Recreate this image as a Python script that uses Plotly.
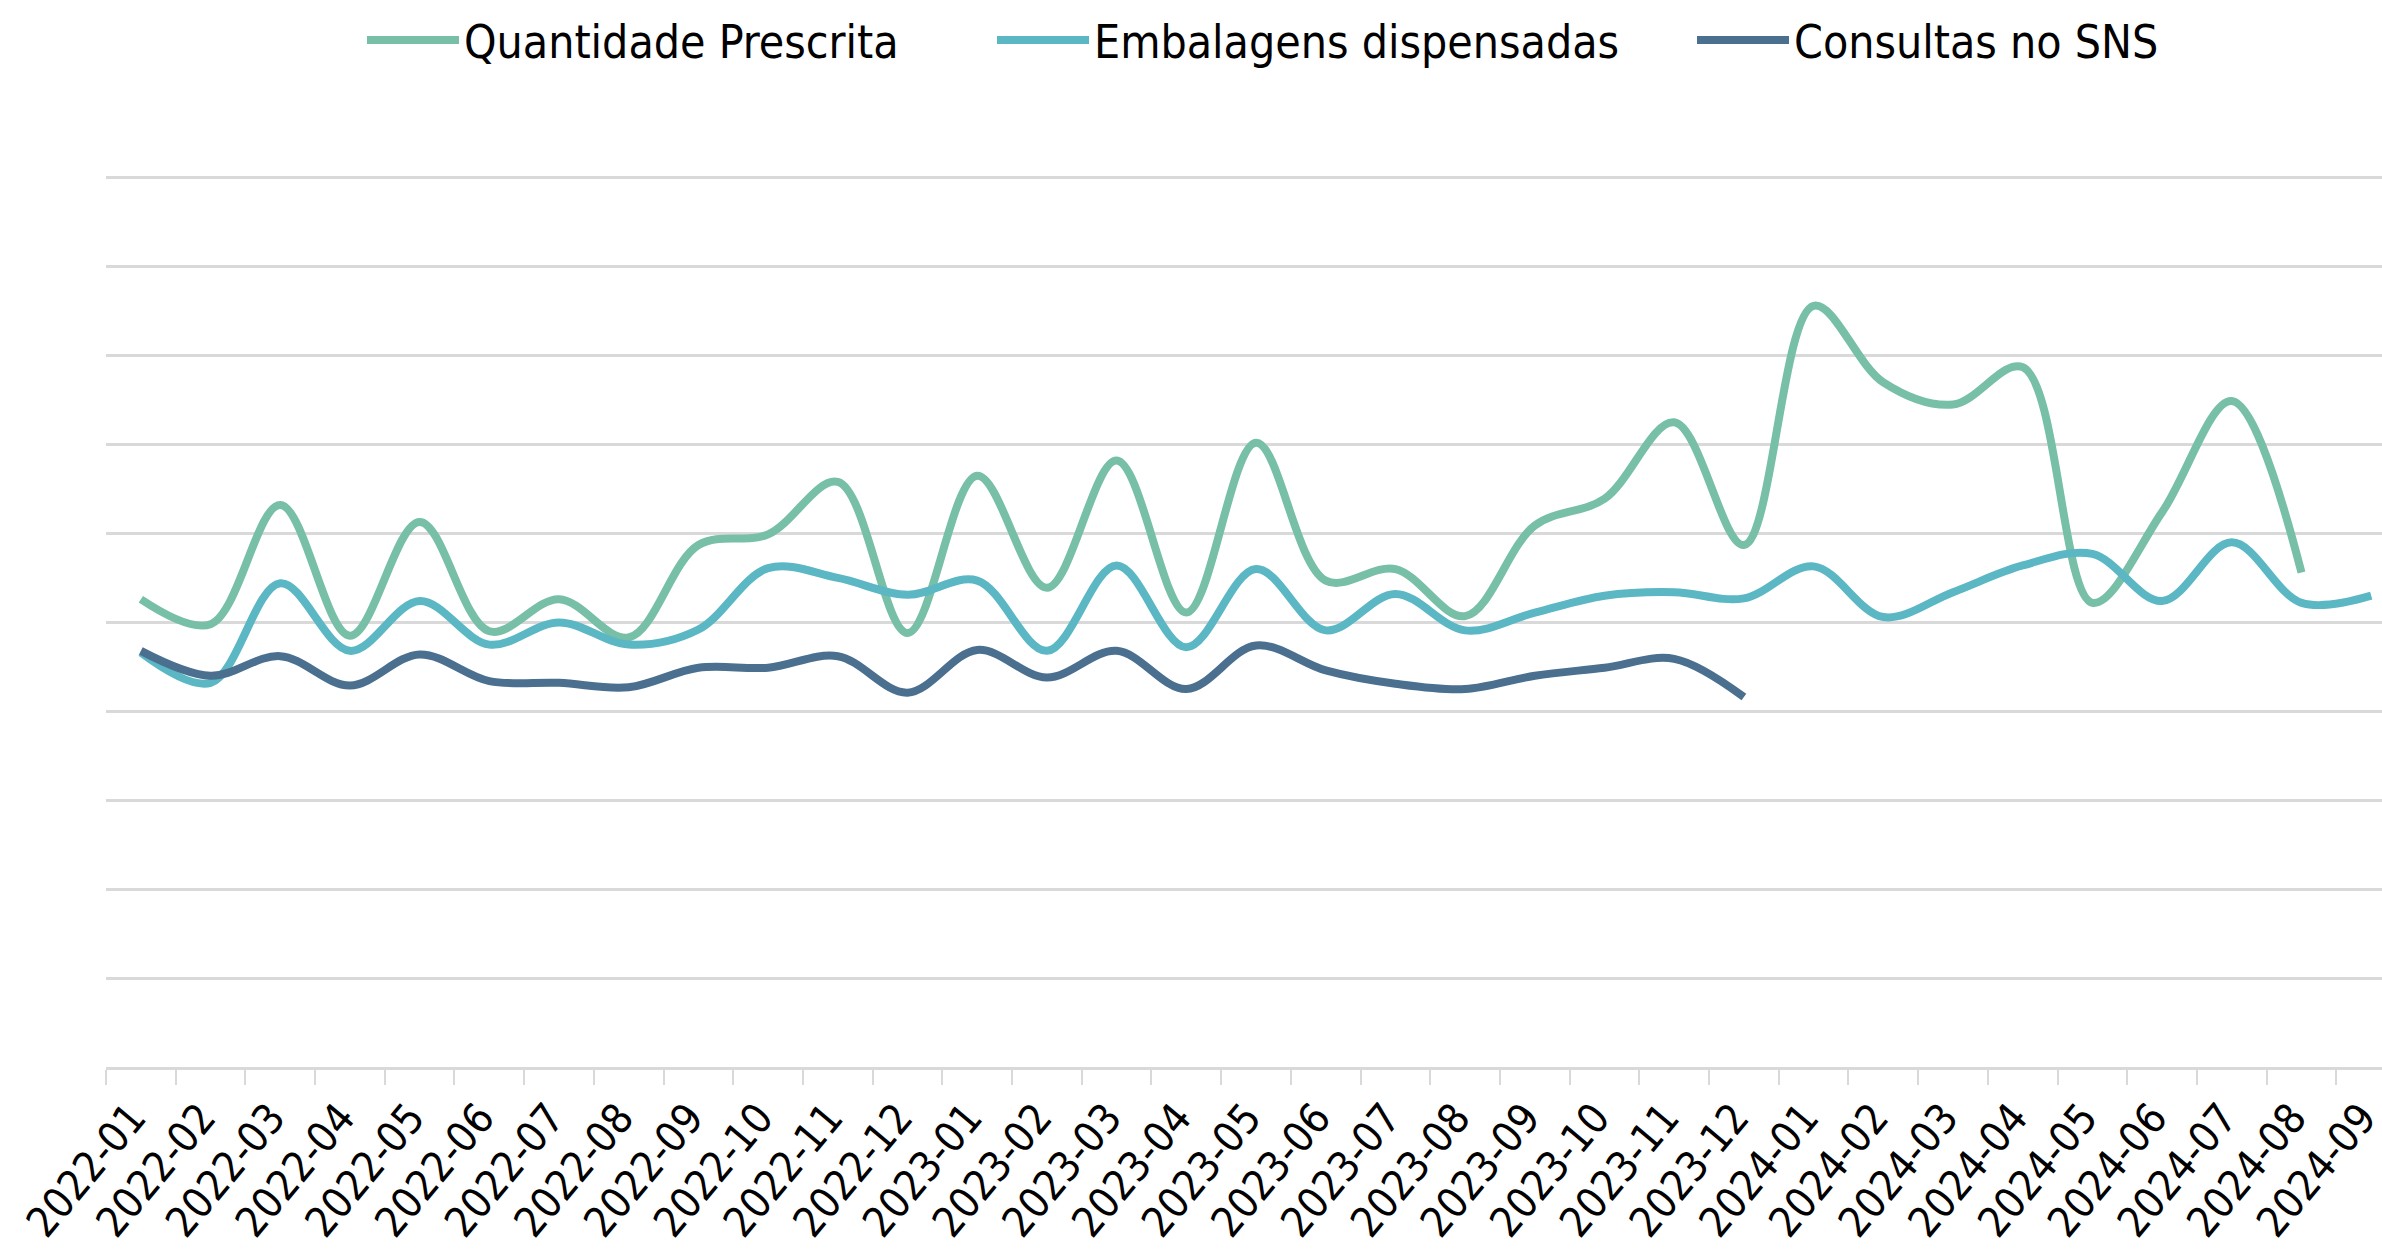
import plotly.graph_objects as go

months = ["2022-01","2022-02","2022-03","2022-04","2022-05","2022-06","2022-07","2022-08",
          "2022-09","2022-10","2022-11","2022-12","2023-01","2023-02","2023-03","2023-04",
          "2023-05","2023-06","2023-07","2023-08","2023-09","2023-10","2023-11","2023-12",
          "2024-01","2024-02","2024-03","2024-04","2024-05","2024-06","2024-07","2024-08",
          "2024-09"]

quantidade_prescrita = [5.26, 4.98, 6.32, 4.85, 6.13, 4.90, 5.26, 4.83, 5.87, 5.99, 6.58, 4.88,
                        6.65, 5.39, 6.82, 5.11, 7.02, 5.47, 5.60, 5.07, 6.09, 6.39, 7.25, 5.87,
                        8.56, 7.70, 7.45, 7.87, 5.22, 6.24, 7.49, 5.56, None]

embalagens_dispensadas = [4.66, 4.32, 5.44, 4.68, 5.24, 4.75, 5.00, 4.75, 4.92, 5.61, 5.50, 5.31,
                          5.47, 4.68, 5.64, 4.72, 5.60, 4.91, 5.32, 4.91, 5.11, 5.30, 5.34, 5.27,
                          5.63, 5.06, 5.34, 5.64, 5.77, 5.24, 5.90, 5.22, 5.30]

consultas_sns = [4.68, 4.40, 4.62, 4.29, 4.64, 4.34, 4.32, 4.27, 4.49, 4.49, 4.62, 4.21,
                 4.69, 4.38, 4.68, 4.25, 4.74, 4.46, 4.31, 4.25, 4.40, 4.49, 4.59, 4.16,
                 None, None, None, None, None, None, None, None, None]

series = [
    ("Quantidade Prescrita", quantidade_prescrita, "#77BFA7", "legend"),
    ("Embalagens dispensadas", embalagens_dispensadas, "#5AB7C3", "legend2"),
    ("Consultas no SNS", consultas_sns, "#4A6F8F", "legend3"),
]

FONT = "DejaVu Sans Condensed, Liberation Sans Narrow, DejaVu Sans, sans-serif"

fig = go.Figure()
for name, vals, color, leg in series:
    fig.add_trace(go.Scatter(
        x=months, y=vals, name=name, mode="lines", legend=leg,
        line=dict(color=color, width=8, shape="spline", smoothing=1.0),
        connectgaps=False,
    ))

def legend_cfg(xpix):
    return dict(orientation="h", xref="container", yref="container",
                x=xpix / 2382, xanchor="left", y=1 - 40 / 1253, yanchor="middle",
                font=dict(family=FONT, size=46, color="#000000"),
                itemwidth=92, bgcolor="rgba(0,0,0,0)", borderwidth=0)

fig.update_layout(
    width=2382, height=1253,
    margin=dict(l=106, r=0, t=176, b=186, autoexpand=False),
    paper_bgcolor="white", plot_bgcolor="white",
    font=dict(family=FONT, size=43, color="#000000"),
    showlegend=True,
    legend=legend_cfg(362),
    legend2=legend_cfg(992),
    legend3=legend_cfg(1692),
)

fig.update_xaxes(
    type="category", range=[-0.5, 32.155],
    tickson="boundaries", ticks="outside", ticklen=15, tickwidth=2, tickcolor="#D9D9D9",
    showline=True, linecolor="#D9D9D9", linewidth=3,
    showgrid=False, tickangle=-50,
    ticklabelshift=-9, ticklabelstandoff=6,
    tickfont=dict(family=FONT, size=42, color="#000000"),
    automargin=False,
)
fig.update_yaxes(
    range=[0, 10.02], dtick=1, tick0=0,
    showgrid=True, gridcolor="#D9D9D9", gridwidth=3,
    showticklabels=False, zeroline=False, showline=False, ticks="",
    automargin=False,
)

fig.write_html("out.html",
               config={"displayModeBar": False},
               post_script="document.body.style.margin='0';document.body.style.overflow='hidden';")
